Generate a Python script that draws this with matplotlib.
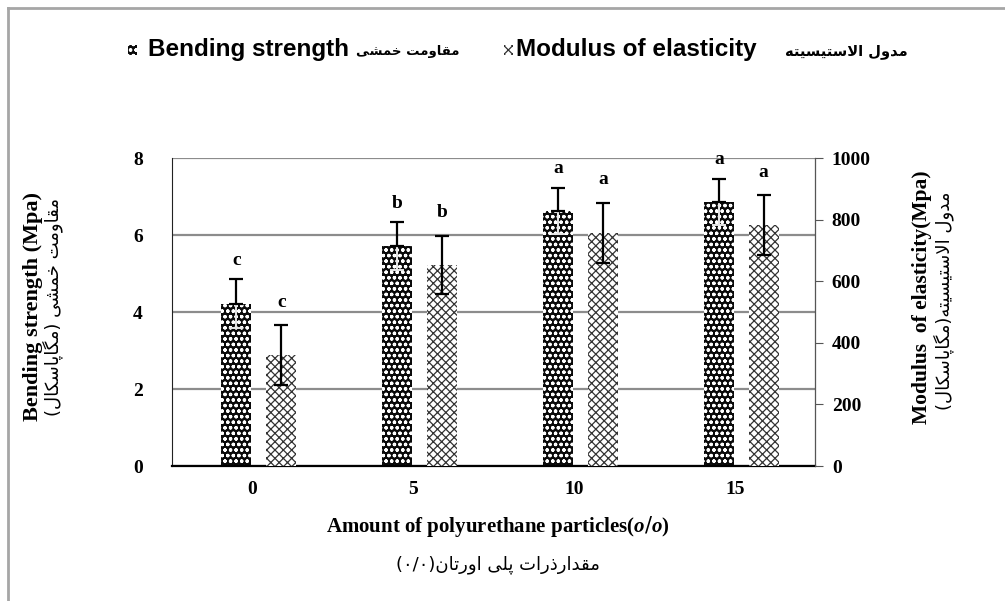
import matplotlib.pyplot as plt
import numpy as np
from matplotlib.patches import Rectangle
from matplotlib.lines import Line2D

plt.rcParams['hatch.linewidth'] = 0.9
plt.rcParams['mathtext.fontset'] = 'custom'
plt.rcParams['mathtext.it'] = 'Liberation Serif:italic:bold'

amounts = ['0', '5', '10', '15']
bending = [4.22, 5.71, 6.62, 6.86]
bending_err = [0.63, 0.62, 0.60, 0.60]
bending_letters = ['c', 'b', 'a', 'a']
modulus = [360, 653, 757, 782]
modulus_err = [97, 94, 97, 97]
modulus_letters = ['c', 'b', 'a', 'a']

# arabic letter forms: isolated, final, initial, medial
FORMS = {
    'ا': ('\uFE8D', '\uFE8E', None, None),
    'د': ('\uFEA9', '\uFEAA', None, None),
    'ذ': ('\uFEAB', '\uFEAC', None, None),
    'ر': ('\uFEAD', '\uFEAE', None, None),
    'و': ('\uFEED', '\uFEEE', None, None),
    'ت': ('\uFE95', '\uFE96', '\uFE97', '\uFE98'),
    'خ': ('\uFEA5', '\uFEA6', '\uFEA7', '\uFEA8'),
    'س': ('\uFEB1', '\uFEB2', '\uFEB3', '\uFEB4'),
    'ش': ('\uFEB5', '\uFEB6', '\uFEB7', '\uFEB8'),
    'ق': ('\uFED5', '\uFED6', '\uFED7', '\uFED8'),
    'ل': ('\uFEDD', '\uFEDE', '\uFEDF', '\uFEE0'),
    'م': ('\uFEE1', '\uFEE2', '\uFEE3', '\uFEE4'),
    'ن': ('\uFEE5', '\uFEE6', '\uFEE7', '\uFEE8'),
    'ه': ('\uFEE9', '\uFEEA', '\uFEEB', '\uFEEC'),
    'ی': ('\uFBFC', '\uFBFD', '\uFBFE', '\uFBFF'),
    'پ': ('\uFB56', '\uFB57', '\uFB58', '\uFB59'),
    'ک': ('\uFB8E', '\uFB8F', '\uFB90', '\uFB91'),
    'گ': ('\uFB92', '\uFB93', '\uFB94', '\uFB95'),
}
MIRROR = {'(': ')', ')': '('}


def rtl(s):
    # shape the letters and put them in visual (right to left) order
    res = []
    i = 0
    while i < len(s):
        c = s[i]
        prev = s[i - 1] if i > 0 else ''
        nxt = s[i + 1] if i + 1 < len(s) else ''
        jp = prev in FORMS and FORMS[prev][2] is not None
        if c == 'ل' and nxt == 'ا':
            res.append('\uFEFC' if jp else '\uFEFB')
            i += 2
            continue
        if c not in FORMS:
            res.append(MIRROR.get(c, c))
            i += 1
            continue
        jn = FORMS[c][2] is not None and nxt in FORMS
        iso, fin, ini, med = FORMS[c]
        if jp and jn:
            res.append(med)
        elif jp:
            res.append(fin)
        elif jn:
            res.append(ini)
        else:
            res.append(iso)
        i += 1
    return ''.join(res[::-1])


serif = 'Liberation Serif'
arabic = 'DejaVu Sans'

fig = plt.figure(figsize=(10.05, 6.01), dpi=100)
ax = fig.add_axes([0.1711, 0.2246, 0.640, 0.5125])
ax2 = ax.twinx()

x = np.arange(len(amounts))
w = 0.186
xb = x - 0.099
xm = x + 0.18

ax.set_xlim(-0.5, 3.5)
ax.set_ylim(0, 8)
ax2.set_ylim(0, 1000)
ax.set_yticks([0, 2, 4, 6, 8])
ax2.set_yticks(range(0, 1001, 200))
ax.grid(axis='y', color='#8c8c8c', lw=1.6, zorder=0)
ax.set_axisbelow(True)

# tiny blue series at the base
ax.bar(xb, [0.05] * 4, w, color='#4f81bd', zorder=1)
ax.bar(xb, bending, w, color='#0a0a0a', edgecolor='white', hatch='ooo', lw=0, zorder=2)
zeros = [0] * 4
ax.errorbar(xb, bending, yerr=[bending_err, zeros], fmt='none', ecolor='#e8e8e8',
            elinewidth=1.4, capsize=5, capthick=1.4, zorder=3)
ax.errorbar(xb, bending, yerr=[zeros, bending_err], fmt='none', ecolor='black',
            elinewidth=1.6, capsize=5, capthick=1.6, zorder=3)
for xi, v, e, t in zip(xb, bending, bending_err, bending_letters):
    ax.text(xi, v + e + 0.5, t, ha='center', va='center', fontsize=14,
            family=serif, weight='bold')

ax2.bar(xm, modulus, w, color='white', edgecolor='#333333', hatch='xxxx', lw=0, zorder=2)
ax2.errorbar(xm, modulus, yerr=modulus_err, fmt='none', ecolor='black', elinewidth=1.6,
             capsize=5, capthick=1.6, zorder=3)
for xi, v, e, t in zip(xm, modulus, modulus_err, modulus_letters):
    ax2.text(xi, v + e + 75, t, ha='center', va='center', fontsize=14,
             family=serif, weight='bold')

ax.set_xticks(x)
ax.set_xticklabels(amounts)
for a in (ax, ax2):
    a.spines['top'].set_visible(False)
    a.tick_params(labelsize=14)
    for lab in a.get_xticklabels() + a.get_yticklabels():
        lab.set_family(serif)
        lab.set_weight('bold')
ax.tick_params(axis='x', length=0, pad=11)
ax.tick_params(axis='y', length=0, pad=21)
ax.spines['left'].set_color('#222222')
ax.spines['bottom'].set_linewidth(1.6)
ax2.spines['left'].set_visible(False)
ax2.spines['bottom'].set_visible(False)
ax2.spines['right'].set_color('#555555')
ax2.tick_params(axis='y', length=6, color='#555555', pad=6)

# axis labels
fig.text(0.033, 0.49, 'Bending strength (Mpa)', rotation=90, ha='center', va='center',
         fontsize=16, family=serif, weight='bold')
fig.text(0.052, 0.49, rtl('مقاومت خمشی (مگاپاسکال)'), rotation=90, ha='center', va='center',
         fontsize=13, family=arabic)
fig.text(0.917, 0.505, 'Modulus  of elasticity(Mpa)', rotation=90, ha='center', va='center',
         fontsize=15.5, family=serif, weight='bold')
fig.text(0.939, 0.5, rtl('مدول الاستیسیته(مگاپاسکال)'), rotation=90, ha='center', va='center',
         fontsize=13, family=arabic)
fig.text(0.495, 0.124, r'Amount of polyurethane particles($\mathit{o/o}$)', ha='center',
         va='center', fontsize=15, family=serif, weight='bold')
fig.text(0.495, 0.06, rtl('مقدارذرات پلی اورتان(٠/٠)'), ha='center', va='center',
         fontsize=13, family=arabic)

# legend at top
fig.add_artist(Rectangle((0.127, 0.909), 0.009, 0.016, transform=fig.transFigure,
                         facecolor='#0a0a0a', edgecolor='white', hatch='ooo', lw=0))
fig.text(0.147, 0.917, 'Bending strength', ha='left', va='center', fontsize=17.5,
         family='Liberation Sans', weight='bold')
fig.text(0.354, 0.915, rtl('مقاومت خمشی'), ha='left', va='center', fontsize=9.5,
         family=arabic, weight='bold')
fig.add_artist(Rectangle((0.501, 0.909), 0.009, 0.016, transform=fig.transFigure,
                         facecolor='white', edgecolor='#333333', hatch='xxxx', lw=0))
fig.text(0.513, 0.917, 'Modulus of elasticity', ha='left', va='center', fontsize=17.5,
         family='Liberation Sans', weight='bold')
fig.text(0.781, 0.915, rtl('مدول الاستیسیته'), ha='left', va='center', fontsize=10.5,
         family=arabic, weight='bold')

# outer frame
fig.add_artist(Line2D([0.008, 1.0], [0.986, 0.986], transform=fig.transFigure,
                      color='#a6a6a6', lw=2))
fig.add_artist(Line2D([0.008, 0.008], [0.0, 0.986], transform=fig.transFigure,
                      color='#a6a6a6', lw=2))

fig.savefig('out.png', dpi=100)
